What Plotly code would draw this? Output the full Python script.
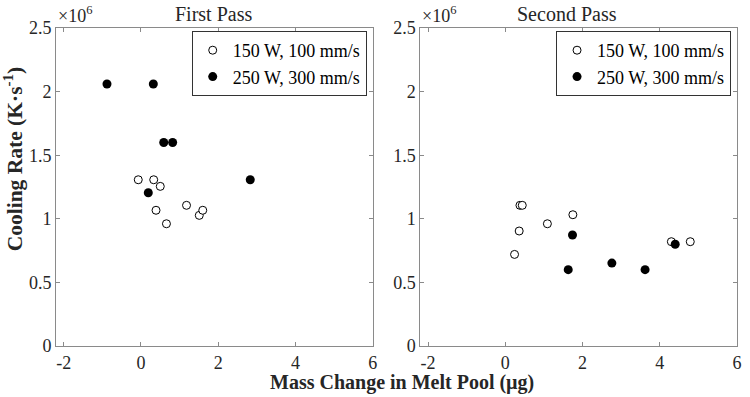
import plotly.graph_objects as go

# First Pass data (x: mass change µg, y: cooling rate K/s)
fp_low_x = [-0.07, 0.33, 0.50, 0.39, 0.66, 1.18, 1.51, 1.60]
fp_low_y = [1.307e6, 1.307e6, 1.255e6, 1.067e6, 0.961e6, 1.106e6, 1.027e6, 1.067e6]
fp_high_x = [-0.88, 0.32, 0.59, 0.82, 2.83, 0.19]
fp_high_y = [2.06e6, 2.06e6, 1.60e6, 1.60e6, 1.307e6, 1.205e6]

# Second Pass data
sp_low_x = [0.38, 0.44, 0.36, 0.24, 1.09, 1.75, 4.30, 4.79]
sp_low_y = [1.106e6, 1.106e6, 0.904e6, 0.72e6, 0.961e6, 1.032e6, 0.82e6, 0.82e6]
sp_high_x = [1.74, 1.63, 2.76, 3.62, 4.40]
sp_high_y = [0.873e6, 0.60e6, 0.652e6, 0.60e6, 0.80e6]

label_low = "150 W, 100 mm/s"
label_high = "250 W, 300 mm/s"

x_ticks = [-2, 0, 2, 4, 6]
x_tick_text = ["-2", "0", "2", "4", "6"]
y_ticks = [0, 0.5e6, 1.0e6, 1.5e6, 2.0e6, 2.5e6]
y_tick_text = ["0", "0.5", "1", "1.5", "2", "2.5"]

FONT = "Liberation Serif"
AX = "#8a8a8a"
TXT = "#262626"

fig = go.Figure()

open_marker = dict(symbol="circle", size=8, color="white", line=dict(color="black", width=1))
fill_marker = dict(symbol="circle", size=9, color="black", line=dict(color="black", width=0))

fig.add_trace(go.Scatter(x=fp_low_x, y=fp_low_y, mode="markers", name=label_low,
                         marker=open_marker, xaxis="x", yaxis="y", legend="legend"))
fig.add_trace(go.Scatter(x=fp_high_x, y=fp_high_y, mode="markers", name=label_high,
                         marker=fill_marker, xaxis="x", yaxis="y", legend="legend"))
fig.add_trace(go.Scatter(x=sp_low_x, y=sp_low_y, mode="markers", name=label_low,
                         marker=open_marker, xaxis="x2", yaxis="y2", legend="legend2"))
fig.add_trace(go.Scatter(x=sp_high_x, y=sp_high_y, mode="markers", name=label_high,
                         marker=fill_marker, xaxis="x2", yaxis="y2", legend="legend2"))

def xax(domain, anchor):
    return dict(domain=domain, anchor=anchor, range=[-2.2, 6], tickvals=x_ticks, ticktext=x_tick_text,
                showline=True, linecolor=AX, linewidth=1, mirror="ticks", ticks="inside",
                ticklen=4, tickcolor=AX, showgrid=False, zeroline=False,
                tickfont=dict(family=FONT, size=18, color=TXT))

def yax(anchor):
    return dict(domain=[0, 1], anchor=anchor, range=[0, 2.5e6], tickvals=y_ticks, ticktext=y_tick_text,
                showline=True, linecolor=AX, linewidth=1, mirror="ticks", ticks="inside",
                ticklen=4, tickcolor=AX, showgrid=False, zeroline=False,
                tickfont=dict(family=FONT, size=18, color=TXT))

L, R, T, B = 56, 8, 28, 51
W, H = 750, 397
PW = W - L - R
PH = H - T - B

def px_x(p):
    return (p - L) / PW

def px_y(p):
    return 1 - (p - T) / PH

legend_common = dict(font=dict(family=FONT, size=18, color="black"), bgcolor="white",
                     bordercolor="#333", borderwidth=1, xanchor="right", yanchor="top",
                     tracegroupgap=0, itemclick=False)

fig.update_layout(
    width=W, height=H,
    margin=dict(l=L, r=R, t=T, b=B),
    paper_bgcolor="white", plot_bgcolor="white",
    font=dict(family=FONT, color=TXT),
    xaxis=xax([0, px_x(375)], "y"),
    yaxis=yax("x"),
    xaxis2=xax([px_x(423), 1], "y2"),
    yaxis2=yax("x2"),
    legend=dict(x=px_x(369), y=px_y(31), **legend_common),
    legend2=dict(x=px_x(736), y=px_y(31), **legend_common),
    showlegend=True,
)

annotations = [
    dict(text="First Pass", x=px_x(215), y=px_y(14), xref="paper", yref="paper",
         showarrow=False, font=dict(family=FONT, size=20, color=TXT), xanchor="center", yanchor="middle"),
    dict(text="Second Pass", x=px_x(571), y=px_y(14), xref="paper", yref="paper",
         showarrow=False, font=dict(family=FONT, size=20, color=TXT), xanchor="center", yanchor="middle"),
    dict(text="×10<sup>6</sup>", x=px_x(56), y=px_y(14), xref="paper", yref="paper",
         showarrow=False, font=dict(family=FONT, size=18, color=TXT), xanchor="left", yanchor="middle"),
    dict(text="×10<sup>6</sup>", x=px_x(423), y=px_y(14), xref="paper", yref="paper",
         showarrow=False, font=dict(family=FONT, size=18, color=TXT), xanchor="left", yanchor="middle"),
    dict(text="<b>Mass Change in Melt Pool (µg)</b>", x=px_x(405), y=px_y(382), xref="paper", yref="paper",
         showarrow=False, font=dict(family=FONT, size=20, color=TXT), xanchor="center", yanchor="middle"),
    dict(text="<b>Cooling Rate (K·s<sup>-1</sup>)</b>", x=px_x(13), y=px_y(159), xref="paper", yref="paper",
         showarrow=False, textangle=-90, font=dict(family=FONT, size=21.5, color=TXT),
         xanchor="center", yanchor="middle"),
]
fig.update_layout(annotations=annotations)

fig.write_html("out.html", config={"displayModeBar": False},
               post_script="document.body.style.margin='0';document.body.style.overflow='hidden';")
